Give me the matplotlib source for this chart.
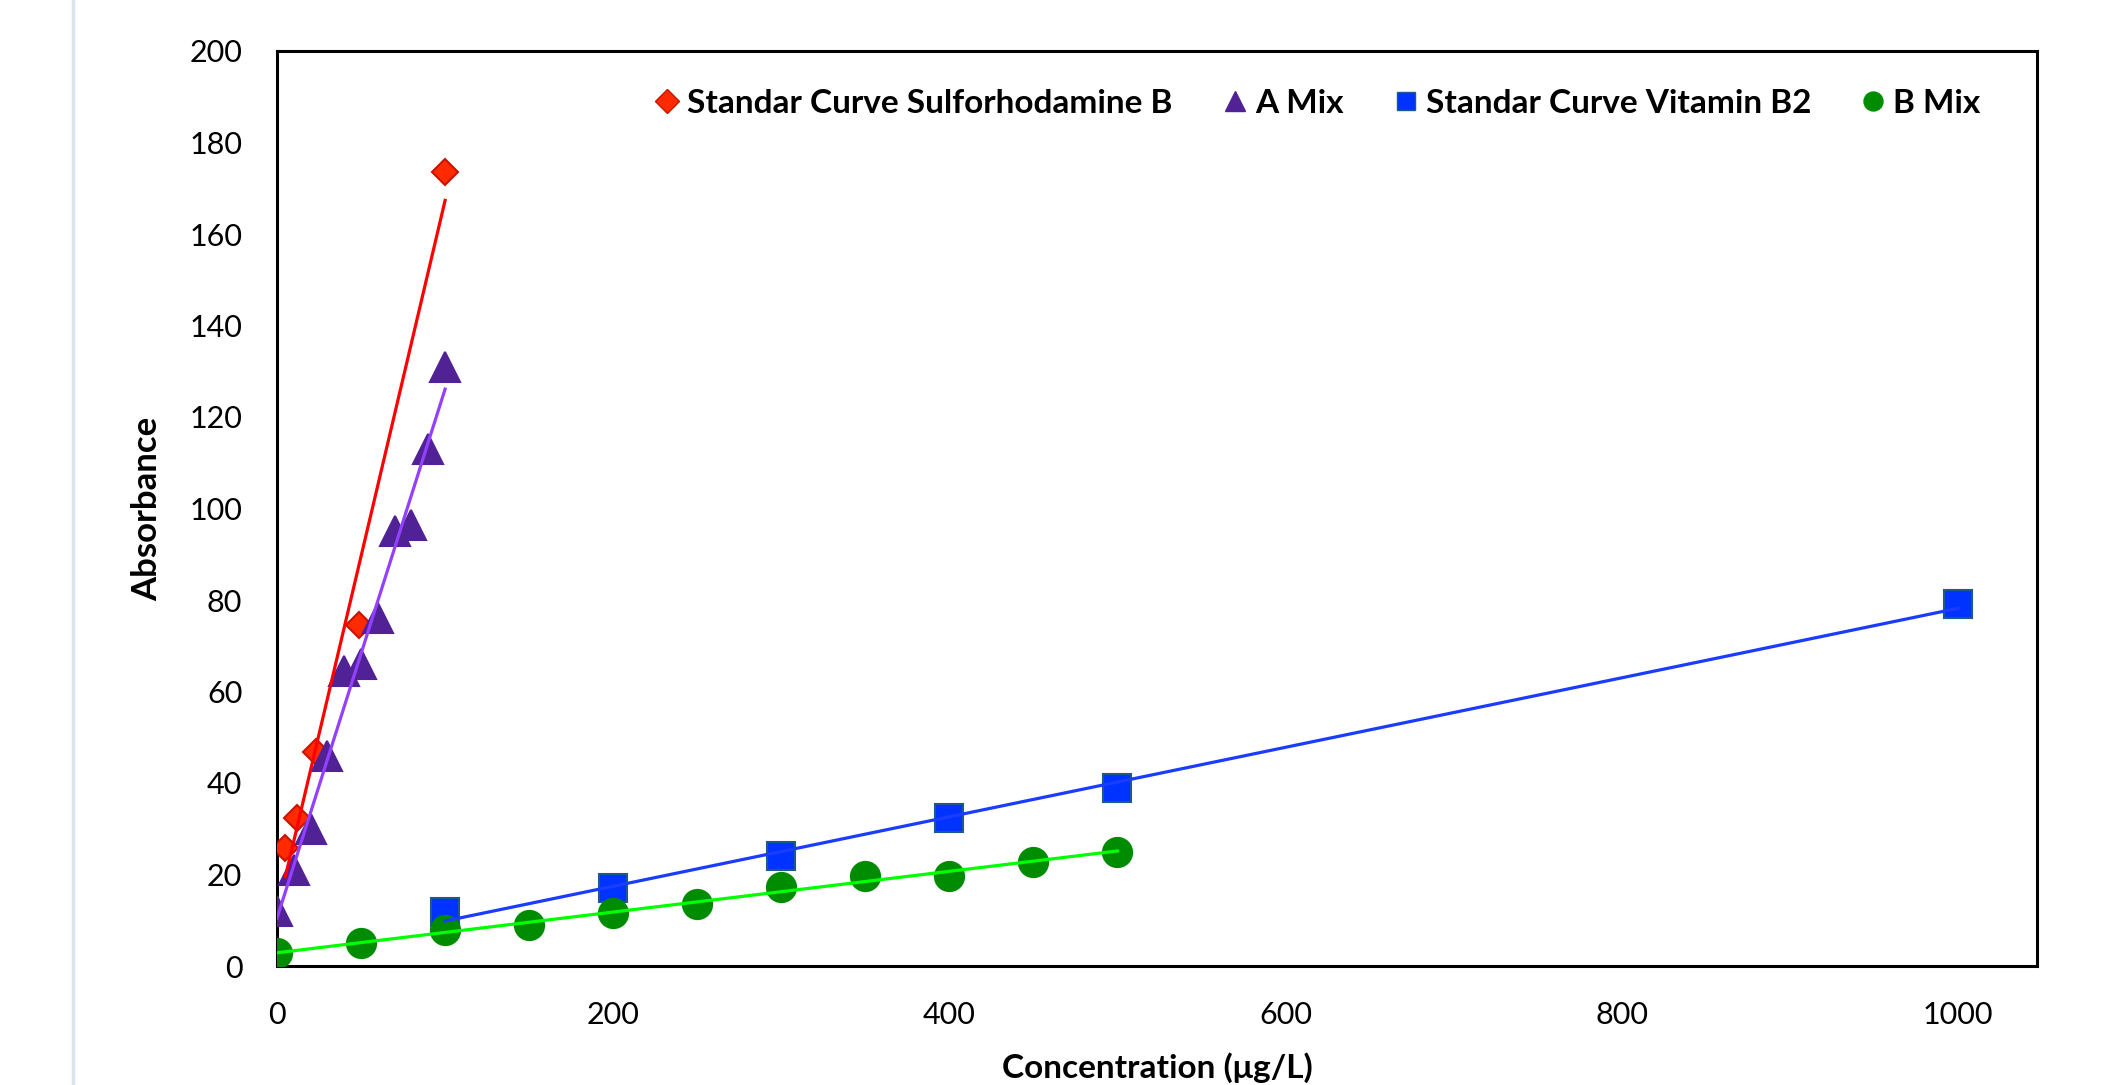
import numpy as np
import matplotlib
matplotlib.use('Agg')
import matplotlib.pyplot as plt
from matplotlib.lines import Line2D

# ── data ────────────────────────────────────────────────────────────────────
srb_x = [5, 12, 23, 49, 100]
srb_y = [25.7, 32.3, 46.8, 74.5, 173.6]

amix_x = [0, 10, 20, 30, 40, 50, 60, 70, 80, 90, 100]
amix_y = [12, 21, 30, 46, 64.5, 66, 76, 95, 96.5, 113, 131]

vb2_x = [100, 200, 300, 400, 500, 1000]
vb2_y = [11.9, 17.0, 24.0, 32.3, 39.0, 79.1]

bmix_x = [0, 50, 100, 150, 200, 250, 300, 350, 400, 450, 500]
bmix_y = [2.8, 5.0, 7.9, 9.0, 11.5, 13.5, 17.3, 19.7, 19.7, 22.8, 25.0]

labels = ['Standar Curve Sulforhodamine B', 'A Mix',
          'Standar Curve Vitamin B2', 'B Mix']
x_ticks = [0, 200, 400, 600, 800, 1000]
y_ticks = list(range(0, 201, 20))

FONT = ['Lato', 'DejaVu Sans']
plt.rcParams['font.family'] = FONT

fig = plt.figure(figsize=(21.19, 10.85), dpi=100)
fig.patch.set_facecolor('white')
ax = fig.add_axes([277/2119, 119/1085, 1760/2119, 915/1085])

# series: (x, y, marker, ms, face, edge, line colour)
series = [
    (srb_x,  srb_y,  'D', 13, '#ff2a00', '#c81400', '#ff0000'),
    (amix_x, amix_y, '^', 22, '#512196', '#512196', '#9440ff'),
    (vb2_x,  vb2_y,  's', 20, '#0033ff', '#1d5a8a', '#1a3cff'),
    (bmix_x, bmix_y, 'o', 21, '#008c00', '#008c00', '#00ff00'),
]

for x, y, mk, ms, fc, ec, lc in series:
    ax.plot(x, y, ls='none', marker=mk, ms=ms, mfc=fc, mec=ec, mew=1.5, zorder=3)

# linear trendlines over each data range, drawn over the markers
for x, y, mk, ms, fc, ec, lc in series:
    b, a = np.polyfit(x, y, 1)
    xs = np.array([min(x), max(x)])
    ax.plot(xs, a + b * xs, color=lc, lw=2.3, zorder=4)

ax.set_xlim(0, 1047)
ax.set_ylim(0, 200)
ax.set_xticks(x_ticks)
ax.set_yticks(y_ticks)
ax.tick_params(length=0, labelsize=22, pad=25)
for s in ax.spines.values():
    s.set_linewidth(2.2)
    s.set_color('black')

ax.set_xlabel('Concentration (μg/L)', fontsize=24, fontweight='bold')
ax.set_ylabel('Absorbance', fontsize=25, fontweight='bold')
ax.xaxis.set_label_coords(0.5, -0.094)
ax.yaxis.set_label_coords(-0.0648, 0.5)

handles = [Line2D([], [], ls='none', marker=mk, ms=ms * 0.65 if mk != 'D' else 12,
                  mfc=fc, mec=ec)
           for x, y, mk, ms, fc, ec, lc in series]
leg = ax.legend(handles, labels, loc='center left', bbox_to_anchor=(0.199, 0.943),
                ncol=4, frameon=False, handlelength=0.6, handletextpad=0.3,
                columnspacing=1.57, prop={'weight': 'bold', 'size': 24})

# thin grey page border on the left
fig.add_artist(Line2D([73/2119, 73/2119], [0, 1], transform=fig.transFigure,
                      color='#dde3ea', lw=2.5))

fig.savefig('out.png', dpi=100, facecolor='white')
